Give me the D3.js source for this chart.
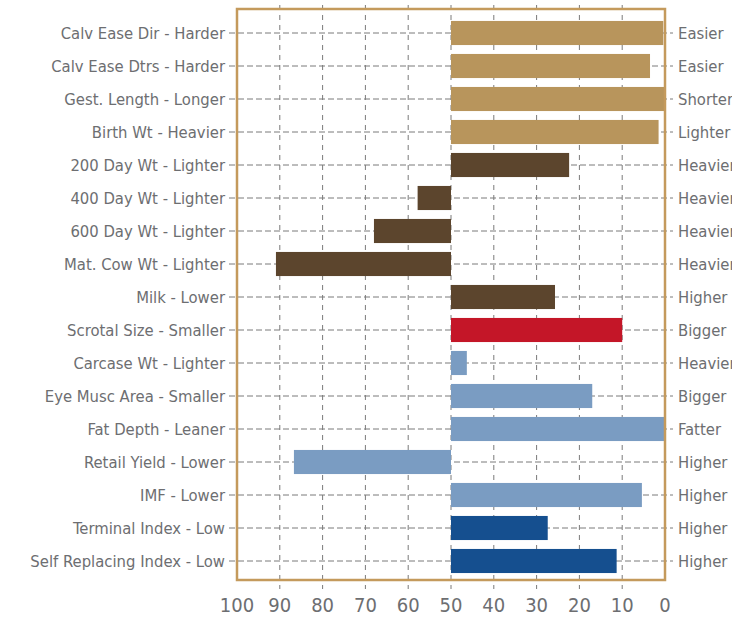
<!DOCTYPE html>
<html>
<head>
<meta charset="utf-8">
<script src="https://cdn.jsdelivr.net/npm/d3@7"></script>
<style>
  body { margin: 0; background: #fff; }
  text { font-family: "Liberation Sans Narrow", "DejaVu Sans Condensed", sans-serif; fill: #6d6e71; }
</style>
</head>
<body>
<div class="chart"></div>
<script>
var width = 732,
    height = 621;

// traits, low end label (left), high end label (right)
var traits = ["Calv Ease Dir", "Calv Ease Dtrs", "Gest. Length", "Birth Wt",
  "200 Day Wt", "400 Day Wt", "600 Day Wt", "Mat. Cow Wt", "Milk",
  "Scrotal Size", "Carcase Wt", "Eye Musc Area", "Fat Depth", "Retail Yield",
  "IMF", "Terminal Index", "Self Replacing Index"];
var lowLabels = ["Harder", "Harder", "Longer", "Heavier", "Lighter", "Lighter",
  "Lighter", "Lighter", "Lower", "Smaller", "Lighter", "Smaller", "Leaner",
  "Lower", "Lower", "Low", "Low"];
var highLabels = ["Easier", "Easier", "Shorter", "Lighter", "Heavier", "Heavier",
  "Heavier", "Heavier", "Higher", "Bigger", "Heavier", "Bigger", "Fatter",
  "Higher", "Higher", "Higher", "Higher"];
// percentile band (100 = worst, 0 = best), bars start at 50
var values = [0.4, 3.5, -0.2, 1.5, 22.4, 57.8, 68, 90.9, 25.7, 10, 46.3, 17, 0,
  86.7, 5.4, 27.4, 11.3];
var groups = ["calving", "calving", "calving", "calving", "growth", "growth",
  "growth", "growth", "growth", "fertility", "carcase", "carcase", "carcase",
  "carcase", "carcase", "index", "index"];
var xTicks = [100, 90, 80, 70, 60, 50, 40, 30, 20, 10, 0];

var color = d3.scaleOrdinal()
    .domain(["calving", "growth", "fertility", "carcase", "index"])
    .range(["#b8955c", "#5c452d", "#c41628", "#7a9cc2", "#154f8f"]);

var svg = d3.select(".chart").append("svg")
    .attr("width", width)
    .attr("height", height);

var x = d3.scaleLinear().domain([100, 0]).range([237, 665]);
var y = d3.scaleBand().domain(traits).range([16.5, 577.5]).paddingInner(0.27).paddingOuter(0.135);

// horizontal dashed grid (also acts as tick marks each side)
svg.append("g").selectAll("line")
    .data(traits)
  .enter().append("line")
    .attr("x1", 229)
    .attr("x2", 673)
    .attr("y1", function(d) { return y(d) + y.bandwidth() / 2; })
    .attr("y2", function(d) { return y(d) + y.bandwidth() / 2; })
    .attr("stroke", "#7a7a7a")
    .attr("stroke-width", 1)
    .attr("stroke-dasharray", "6,3");

// vertical dashed grid
svg.append("g").selectAll("line")
    .data(xTicks.filter(function(d) { return d > 0 && d < 100; }))
  .enter().append("line")
    .attr("x1", function(d) { return x(d); })
    .attr("x2", function(d) { return x(d); })
    .attr("y1", 5)
    .attr("y2", 589)
    .attr("stroke", "#7a7a7a")
    .attr("stroke-width", 1)
    .attr("stroke-dasharray", "5,5");

// bars
svg.append("g").selectAll("rect")
    .data(traits)
  .enter().append("rect")
    .attr("x", function(d, i) { return Math.min(x(50), x(values[i])); })
    .attr("width", function(d, i) { return Math.abs(x(values[i]) - x(50)); })
    .attr("y", function(d) { return y(d); })
    .attr("height", y.bandwidth())
    .attr("fill", function(d, i) { return color(groups[i]); });

// frame
svg.append("rect")
    .attr("x", x(100))
    .attr("y", 9)
    .attr("width", x(0) - x(100))
    .attr("height", 571)
    .attr("fill", "none")
    .attr("stroke", "#c49a5c")
    .attr("stroke-width", 2.5);

// left labels
svg.append("g").selectAll("text")
    .data(traits)
  .enter().append("text")
    .attr("x", 225)
    .attr("y", function(d) { return y(d) + y.bandwidth() / 2; })
    .attr("dy", "0.35em")
    .attr("text-anchor", "end")
    .style("font-size", "16.5px")
    .text(function(d, i) { return d + " - " + lowLabels[i]; });

// right labels
svg.append("g").selectAll("text")
    .data(traits)
  .enter().append("text")
    .attr("x", 678)
    .attr("y", function(d) { return y(d) + y.bandwidth() / 2; })
    .attr("dy", "0.35em")
    .style("font-size", "16.5px")
    .text(function(d, i) { return highLabels[i]; });

// bottom tick labels
svg.append("g").selectAll("text")
    .data(xTicks)
  .enter().append("text")
    .attr("x", function(d) { return x(d); })
    .attr("y", 612)
    .attr("text-anchor", "middle")
    .style("font-size", "20px")
    .text(function(d) { return d; });
</script>
</body>
</html>
